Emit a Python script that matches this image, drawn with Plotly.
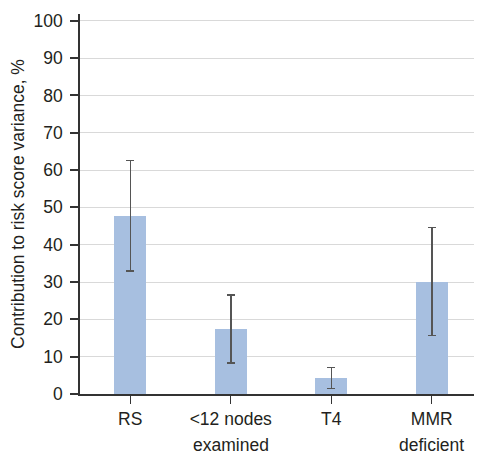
import plotly.graph_objects as go

categories = ["RS", "<12 nodes examined", "T4", "MMR deficient"]
line1 = ["RS", "<12 nodes", "T4", "MMR"]
line2 = ["", "examined", "", "deficient"]
values = [47.7, 17.3, 4.3, 30.0]
err_hi = [62.5, 26.5, 7.1, 44.6]
err_lo = [33.0, 8.3, 1.5, 15.7]
yticks = [0, 10, 20, 30, 40, 50, 60, 70, 80, 90, 100]

plus = [h - v for h, v in zip(err_hi, values)]
minus = [v - l for l, v in zip(err_lo, values)]

font = "Liberation Sans, Arial, sans-serif"
txt = "#231f20"
fs = 17.5

fig = go.Figure()
fig.add_trace(go.Bar(
    x=categories, y=values, width=0.32,
    marker=dict(color="#a7bfe0", line=dict(width=0)),
    error_y=dict(type="data", symmetric=False, array=plus, arrayminus=minus,
                 color="#555555", thickness=1.5, width=4),
))
for c, t in zip(categories, line2):
    if t:
        fig.add_annotation(x=c, y=0, xref="x", yref="paper", text=t, showarrow=False,
                           yanchor="middle", yshift=-51,
                           font=dict(family=font, size=fs, color=txt))

# page has an 8px body margin, so shift the plot area up/left by 8px
fig.update_layout(
    width=482, height=455, margin=dict(l=72, r=8, t=6, b=69),
    paper_bgcolor="white", plot_bgcolor="white", showlegend=False,
    font=dict(family=font, size=fs, color=txt),
    bargap=0,
)
fig.update_xaxes(tickmode="array", tickvals=categories, ticktext=line1,
                 ticks="outside", ticklen=8, tickcolor="#333333", tickwidth=1,
                 showline=True, linecolor="#333333", linewidth=1.5,
                 showgrid=False, automargin=False, tickfont=dict(size=fs, color=txt))
fig.update_yaxes(range=[0, 101.8], tickvals=yticks, ticks="outside", ticklen=8,
                 tickcolor="#333333", tickwidth=1.5, ticklabelstandoff=4,
                 showline=True, linecolor="#333333", linewidth=1.5,
                 showgrid=True, gridcolor="#d9d9d9", gridwidth=1.2, zeroline=False,
                 automargin=False,
                 title=dict(text="Contribution to risk score variance, %", standoff=8,
                            font=dict(size=fs, color=txt)),
                 tickfont=dict(size=fs, color=txt))

fig.write_html("out.html")
